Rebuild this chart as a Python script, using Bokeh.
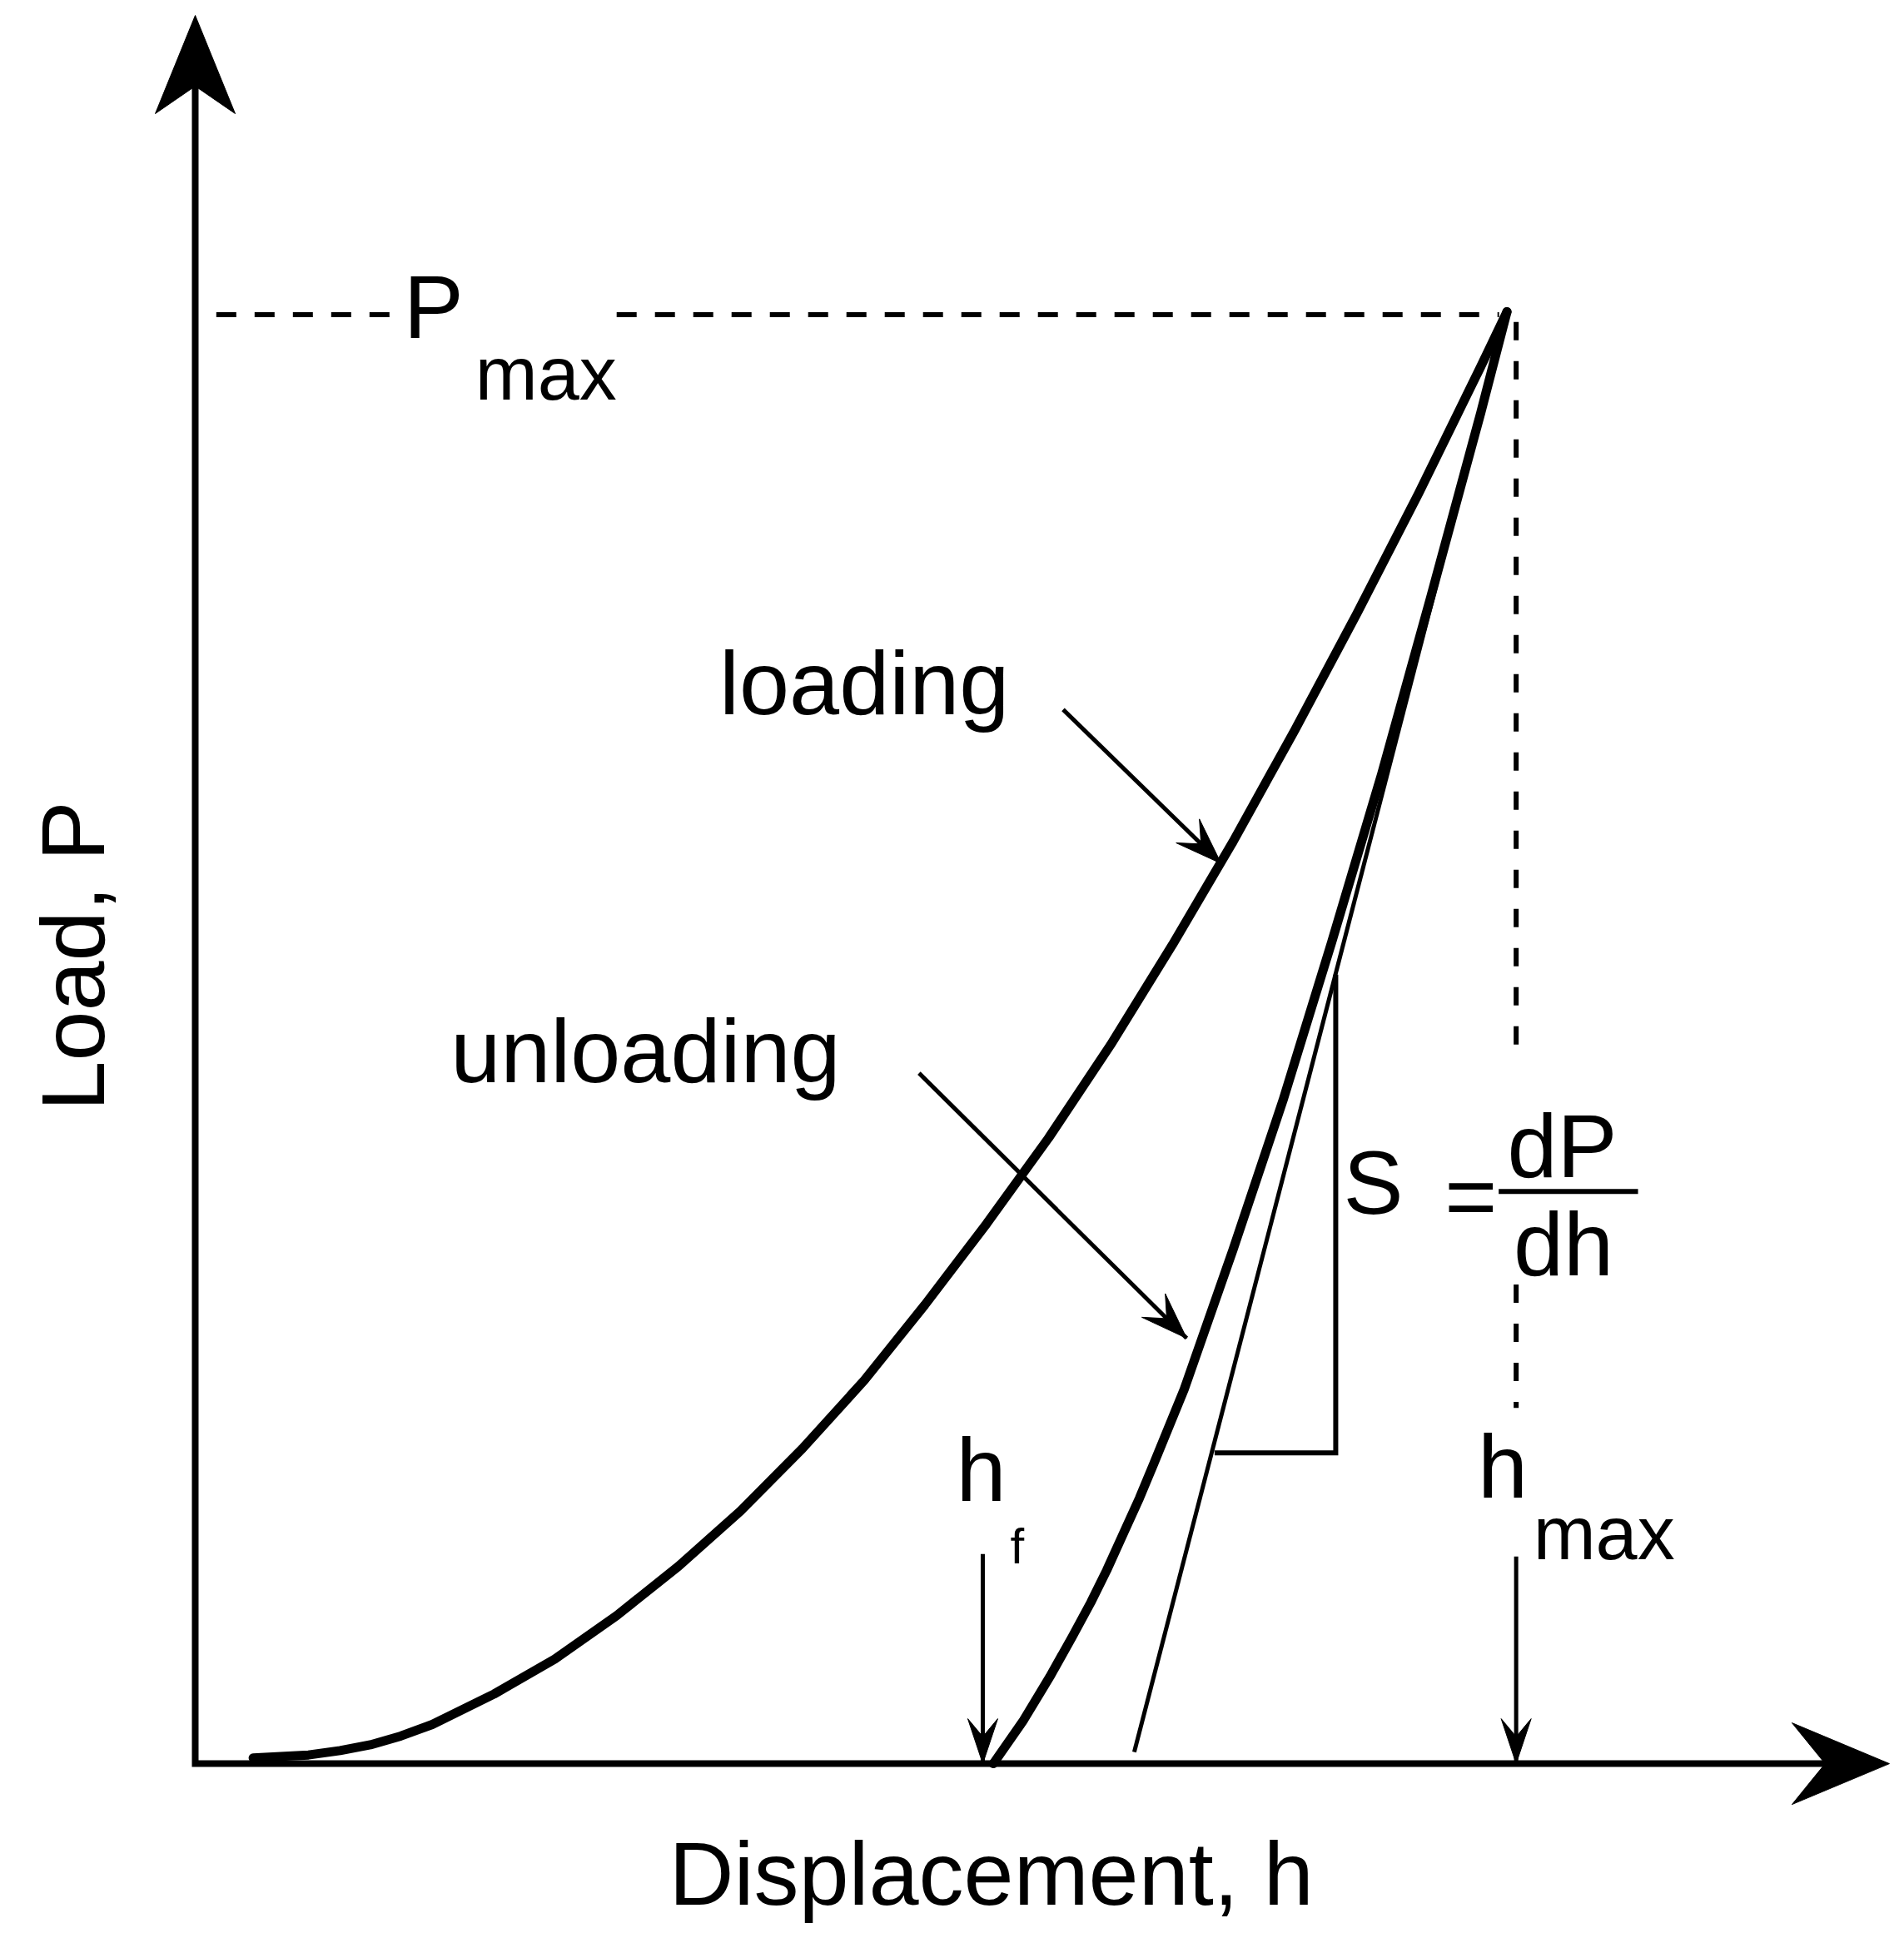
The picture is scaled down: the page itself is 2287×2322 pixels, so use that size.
import math
from bokeh.plotting import figure
from bokeh.models import Range1d
from bokeh.embed import file_html
from bokeh.resources import INLINE
from bokeh.core.properties import value

# ---------------- data (displacement h, load P; h_max = 1, P_max = 1) ----------------
loading_h = [0.044, 0.065, 0.086, 0.110, 0.133, 0.156, 0.180, 0.227, 0.273, 0.320, 0.367,
             0.414, 0.461, 0.508, 0.554, 0.601, 0.648, 0.695, 0.742, 0.788, 0.835, 0.882,
             0.929, 0.976, 0.996]
loading_P = [0.004, 0.005, 0.006, 0.009, 0.013, 0.019, 0.027, 0.048, 0.072, 0.102, 0.136,
             0.174, 0.217, 0.264, 0.316, 0.372, 0.431, 0.495, 0.564, 0.635, 0.712, 0.792,
             0.875, 0.962, 1.000]
unloading_h = [0.996, 0.976, 0.938, 0.901, 0.863, 0.826, 0.788, 0.751, 0.728, 0.717, 0.705,
               0.692, 0.680, 0.666, 0.649, 0.629, 0.606]
unloading_P = [1.000, 0.930, 0.803, 0.682, 0.566, 0.457, 0.354, 0.258, 0.207, 0.183, 0.159,
               0.133, 0.111, 0.0875, 0.060, 0.030, 0.000]
tangent_h = [0.996, 0.713]
tangent_P = [1.000, 0.008]
triangle_h = [0.774, 0.866, 0.866]
triangle_P = [0.214, 0.214, 0.5435]
h_f = 0.598
h_max = 1.003
P_max = 0.998
pmax_dash_h = [[0.016, 0.152], [0.320, 0.990]]
hmax_dash_P = [[0.993, 0.484], [0.330, 0.245]]
loading_arrow = [(0.659, 0.726), (0.779, 0.620)]
unloading_arrow = [(0.5496, 0.4756), (0.7528, 0.293)]
hf_arrow_P = [0.1444, 0.0]
hmax_arrow_P = [0.1427, 0.0]
axis_tip_h = 1.2864
axis_tip_P = 1.2041

# ---------------- figure (page has no margin: figure fills the window) ----------------
W, H = 2287, 2322
SXd, SYd = 1581.9, 1744.1          # pixels per data unit
OX, OY = 234.0, 2118.1             # pixel position of the origin
X0, X1 = (0 - OX) / SXd, (W - OX) / SXd
Y0, Y1 = (OY - H) / SYd, (OY - 0) / SYd

p = figure(width=W, height=H, x_range=Range1d(X0, X1), y_range=Range1d(Y0, Y1),
           output_backend="svg", toolbar_location=None, min_border=0,
           x_axis_location=None, y_axis_location=None)
p.grid.visible = False
p.outline_line_color = None
p.background_fill_color = "white"
p.border_fill_color = "white"

BLACK = "#000000"


def head(tx, ty, dx, dy, length, hw, notch):
    """arrow head polygon; (dx, dy) direction in screen pixels (y down)."""
    n = math.hypot(dx, dy)
    ux, uy = dx / n, dy / n
    px, py = -uy, ux
    pts = [(0, 0),
           (-ux * length + px * hw, -uy * length + py * hw),
           (-ux * length * notch, -uy * length * notch),
           (-ux * length - px * hw, -uy * length - py * hw)]
    return [tx + a / SXd for a, b in pts], [ty - b / SYd for a, b in pts]


heads_x, heads_y = [], []

# axes with arrows
p.line([0, 0, axis_tip_h - 0.03], [axis_tip_P - 0.03, 0, 0], line_width=8,
       line_color=BLACK, line_join="miter")
hx, hy = head(0, axis_tip_P, 0, -1, 118, 48, 0.72)
heads_x.append(hx); heads_y.append(hy)
hx, hy = head(axis_tip_h, 0, 1, 0, 117, 49, 0.66)
heads_x.append(hx); heads_y.append(hy)

# dashed guide lines
for seg in pmax_dash_h:
    p.line(seg, [P_max, P_max], line_width=6, line_color=BLACK, line_dash="24 22")
for seg in hmax_dash_P:
    p.line([h_max, h_max], seg, line_width=6, line_color=BLACK, line_dash="22 25")

# curves
p.line(loading_h, loading_P, line_width=11, line_color=BLACK, line_join="round", line_cap="round")
p.line(unloading_h, unloading_P, line_width=11, line_color=BLACK, line_join="round", line_cap="round")
p.line(tangent_h, tangent_P, line_width=5, line_color=BLACK)
p.line(triangle_h, triangle_P, line_width=6, line_color=BLACK, line_join="miter")

# pointer arrows
for (h0, P0), (h1, P1) in (loading_arrow, unloading_arrow):
    p.line([h0, h1], [P0, P1], line_width=5, line_color=BLACK)
    hx, hy = head(h1, P1, (h1 - h0) * SXd, -(P1 - P0) * SYd, 56, 20, 0.6)
    heads_x.append(hx); heads_y.append(hy)
for hv, seg in ((h_f, hf_arrow_P), (h_max, hmax_arrow_P)):
    p.line([hv, hv], seg, line_width=5, line_color=BLACK)
    hx, hy = head(hv, seg[1], 0, 1, 54, 18, 0.6)
    heads_x.append(hx); heads_y.append(hy)

p.patches(heads_x, heads_y, fill_color=BLACK, line_color=BLACK, line_width=1)

# fraction bar of dP/dh
K = 1.4812  # layout scale used for the label positions below
p.line([(1215 * K - OX) / SXd, (1328 * K - OX) / SXd],
       [(OY - 966 * K) / SYd] * 2, line_width=6, line_color=BLACK)

# ---------------- texts ----------------
BASE_FIX = 0.36   # SVG text sits this many em below the requested baseline
FONT = "Liberation Sans"


def put(text, left, base, size, align="left"):
    X = left * K
    Y = base * K - BASE_FIX * size
    p.text(x=[(X - OX) / SXd], y=[(OY - Y) / SYd], text=[text],
           text_font=value(FONT), text_font_size=value(f"{size}px"), text_color=BLACK,
           text_align=align, text_baseline="alphabetic")


MAIN = 108
put("P", 327, 275, MAIN)
put("max", 385, 325, 90)
put("loading", 583, 580, MAIN)
put("unloading", 365, 878, MAIN)
put("S", 1089, 985, MAIN)
put("=", 1192.5, 996, MAIN, align="center")
put("dP", 1222, 955, MAIN)
put("dh", 1227, 1035, MAIN)
put("h", 775, 1218, MAIN)
put("f", 819, 1268, 60)
put("h", 1198, 1215, MAIN)
put("max", 1243, 1265, 90)
put("Displacement, h", 803.5, 1545, MAIN, align="center")

# rotated y label
X = 85 * K - BASE_FIX * MAIN
Y = 775 * K
p.text(x=[(X - OX) / SXd], y=[(OY - Y) / SYd], text=["Load, P"], angle=[math.pi / 2],
       text_font=value(FONT), text_font_size=value(f"{MAIN}px"), text_color=BLACK,
       text_align="center", text_baseline="alphabetic")

open("out.html", "w").write(file_html(p, INLINE))
